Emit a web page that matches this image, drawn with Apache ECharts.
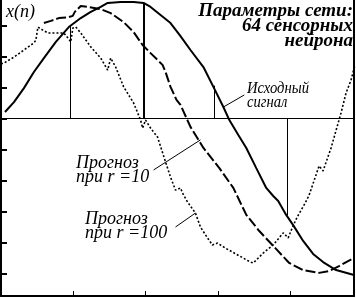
<!DOCTYPE html>
<html>
<head>
<meta charset="utf-8">
<script src="https://cdn.jsdelivr.net/npm/echarts@6/dist/echarts.min.js"></script>
<style>
html,body{margin:0;padding:0;background:#fff;}
#c{width:356px;height:298px;}
</style>
</head>
<body>
<div id="c"></div>
<script>
// Sample index n (x) and amplitude (y)
const srcX = [4,13,23,33,43,55,68,80,90,100,107,120,133,143,150,160,170,180,190,203,213,223,229,238,246,256,266,273,278,286,293,303,313,323,336,354];
const srcY = [0.21,0.53,0.98,1.50,1.95,2.47,2.95,3.24,3.44,3.60,3.73,3.76,3.76,3.73,3.60,3.34,3.08,2.66,2.21,1.66,1.02,0.37,-0.05,-0.53,-0.95,-1.60,-2.24,-2.50,-2.66,-3.11,-3.44,-3.95,-4.37,-4.63,-4.89,-5.05];

const r10X = [43,50,58,68,72,74,80,87,100,110,123,133,142,150,162,165,170,176,180,190,203,219,233,246,259,273,289,303,319,329,339,354];
const r10Y = [3.08,3.15,3.24,3.27,3.31,3.44,3.63,3.60,3.53,3.40,3.11,2.79,2.37,2.11,1.73,1.50,1.02,0.60,0.44,-0.27,-0.95,-1.60,-2.24,-3.11,-3.63,-4.11,-4.66,-4.89,-4.98,-4.92,-4.76,-4.50];

const r100X = [0,3,13,23,33,35,37,42,47,63,68,70,72,75,80,90,100,107,110,115,123,133,140,142,145,150,157,165,170,175,180,182,187,195,200,207,212,217,225,250,253,263,273,283,288,292,297,305,309,319,323,331,341,346,351,355];
const r100Y = [1.76,1.79,1.98,2.21,2.44,2.53,2.95,2.85,2.76,2.76,2.56,2.47,2.92,2.95,2.76,2.31,1.95,1.56,1.95,1.66,1.02,0.50,-0.05,-0.31,-0.05,-0.31,-0.60,-1.40,-1.89,-2.31,-2.24,-2.40,-2.69,-3.05,-3.50,-3.85,-4.08,-4.02,-4.18,-4.63,-4.66,-4.34,-4.08,-3.69,-3.85,-3.53,-3.18,-2.73,-2.47,-1.53,-1.69,-0.95,0.18,0.82,1.24,1.73];

// Drop lines from zero to the source signal
const dropX = [69,143,214,287];
const dropY = [2.98,3.73,1.06,-3.13];

const yTicks = [-5,-4,-3,-2,-1,0,1,2,3];
const xTickStep = 72.5;

const zip = (xs, ys) => xs.map((x, i) => [x, ys[i]]);

const chart = echarts.init(document.getElementById('c'), null, {renderer: 'canvas'});

const black = '#000';
const dropLines = dropX.map((x, i) => [
  {coord: [x, 0], lineStyle: {width: i === 1 ? 2 : 1}},
  {coord: [x, dropY[i]]}
]);

const option = {
  animation: false,
  backgroundColor: '#fff',
  grid: {left: 1, right: 2, top: 0, bottom: 2, containLabel: false},
  xAxis: {
    type: 'value', min: 0, max: 354, interval: xTickStep,
    axisLine: {show: true, onZero: false, lineStyle: {color: black, width: 2}},
    axisTick: {show: true, inside: true, length: 5, lineStyle: {color: black, width: 1}},
    axisLabel: {show: false},
    splitLine: {show: false}
  },
  yAxis: [{
    type: 'value', min: -5.726, max: 3.823,
    axisLine: {show: true, onZero: false, lineStyle: {color: black, width: 2}},
    axisTick: {show: true, inside: true, length: 6, customValues: yTicks, lineStyle: {color: black, width: 2}},
    axisLabel: {show: false},
    splitLine: {show: false}
  }, {
    type: 'value', min: -5.726, max: 3.823, position: 'right',
    axisLine: {show: true, onZero: false, lineStyle: {color: black, width: 2}},
    axisTick: {show: false}, axisLabel: {show: false}, splitLine: {show: false}
  }],
  series: [
    {
      name: 'Исходный сигнал', type: 'line', data: zip(srcX, srcY),
      showSymbol: false, symbol: 'none', clip: false,
      lineStyle: {color: black, width: 2},
      markLine: {
        silent: true, symbol: 'none', label: {show: false},
        lineStyle: {color: black, width: 1, type: 'solid'},
        data: [
          {yAxis: 0, lineStyle: {width: 1}},
          ...dropLines,
          [{coord: [244, 0.76]}, {coord: [223, 0.37]}],
          [{coord: [153, -1.66]}, {coord: [200, -0.69]}],
          [{coord: [175, -3.50]}, {coord: [195, -3.05]}]
        ]
      }
    },
    {
      name: 'Прогноз при r=10', type: 'line', data: zip(r10X, r10Y),
      showSymbol: false, symbol: 'none', clip: false,
      lineStyle: {color: black, width: 2, type: [10, 3]}
    },
    {
      name: 'Прогноз при r=100', type: 'line', data: zip(r100X, r100Y),
      showSymbol: false, symbol: 'none', clip: false,
      lineStyle: {color: black, width: 1.6, type: [2, 2]}
    }
  ],
  graphic: [
    {type: 'text', x: 6, y: 3, style: {text: 'x(n)', font: 'italic 18px "Liberation Serif"', fill: black}},
    {type: 'text', x: 353, y: 4, style: {text: 'Параметры сети:\n64 сенсорных\nнейрона', font: 'bold italic 19px "Liberation Serif"', fill: black, align: 'right', textAlign: 'right', lineHeight: 15}},
    {type: 'text', x: 247, y: 82, scaleX: 0.86, style: {text: 'Исходный\nсигнал', font: 'italic 17px "Liberation Serif"', fill: black, lineHeight: 13.5}},
    {type: 'text', x: 76, y: 156, style: {text: 'Прогноз\nпри r =10', font: 'italic 18px "Liberation Serif"', fill: black, lineHeight: 14}},
    {type: 'text', x: 85, y: 212, style: {text: 'Прогноз\nпри r =100', font: 'italic 18px "Liberation Serif"', fill: black, lineHeight: 14}}
  ]
};
chart.setOption(option);
</script>
</body>
</html>
